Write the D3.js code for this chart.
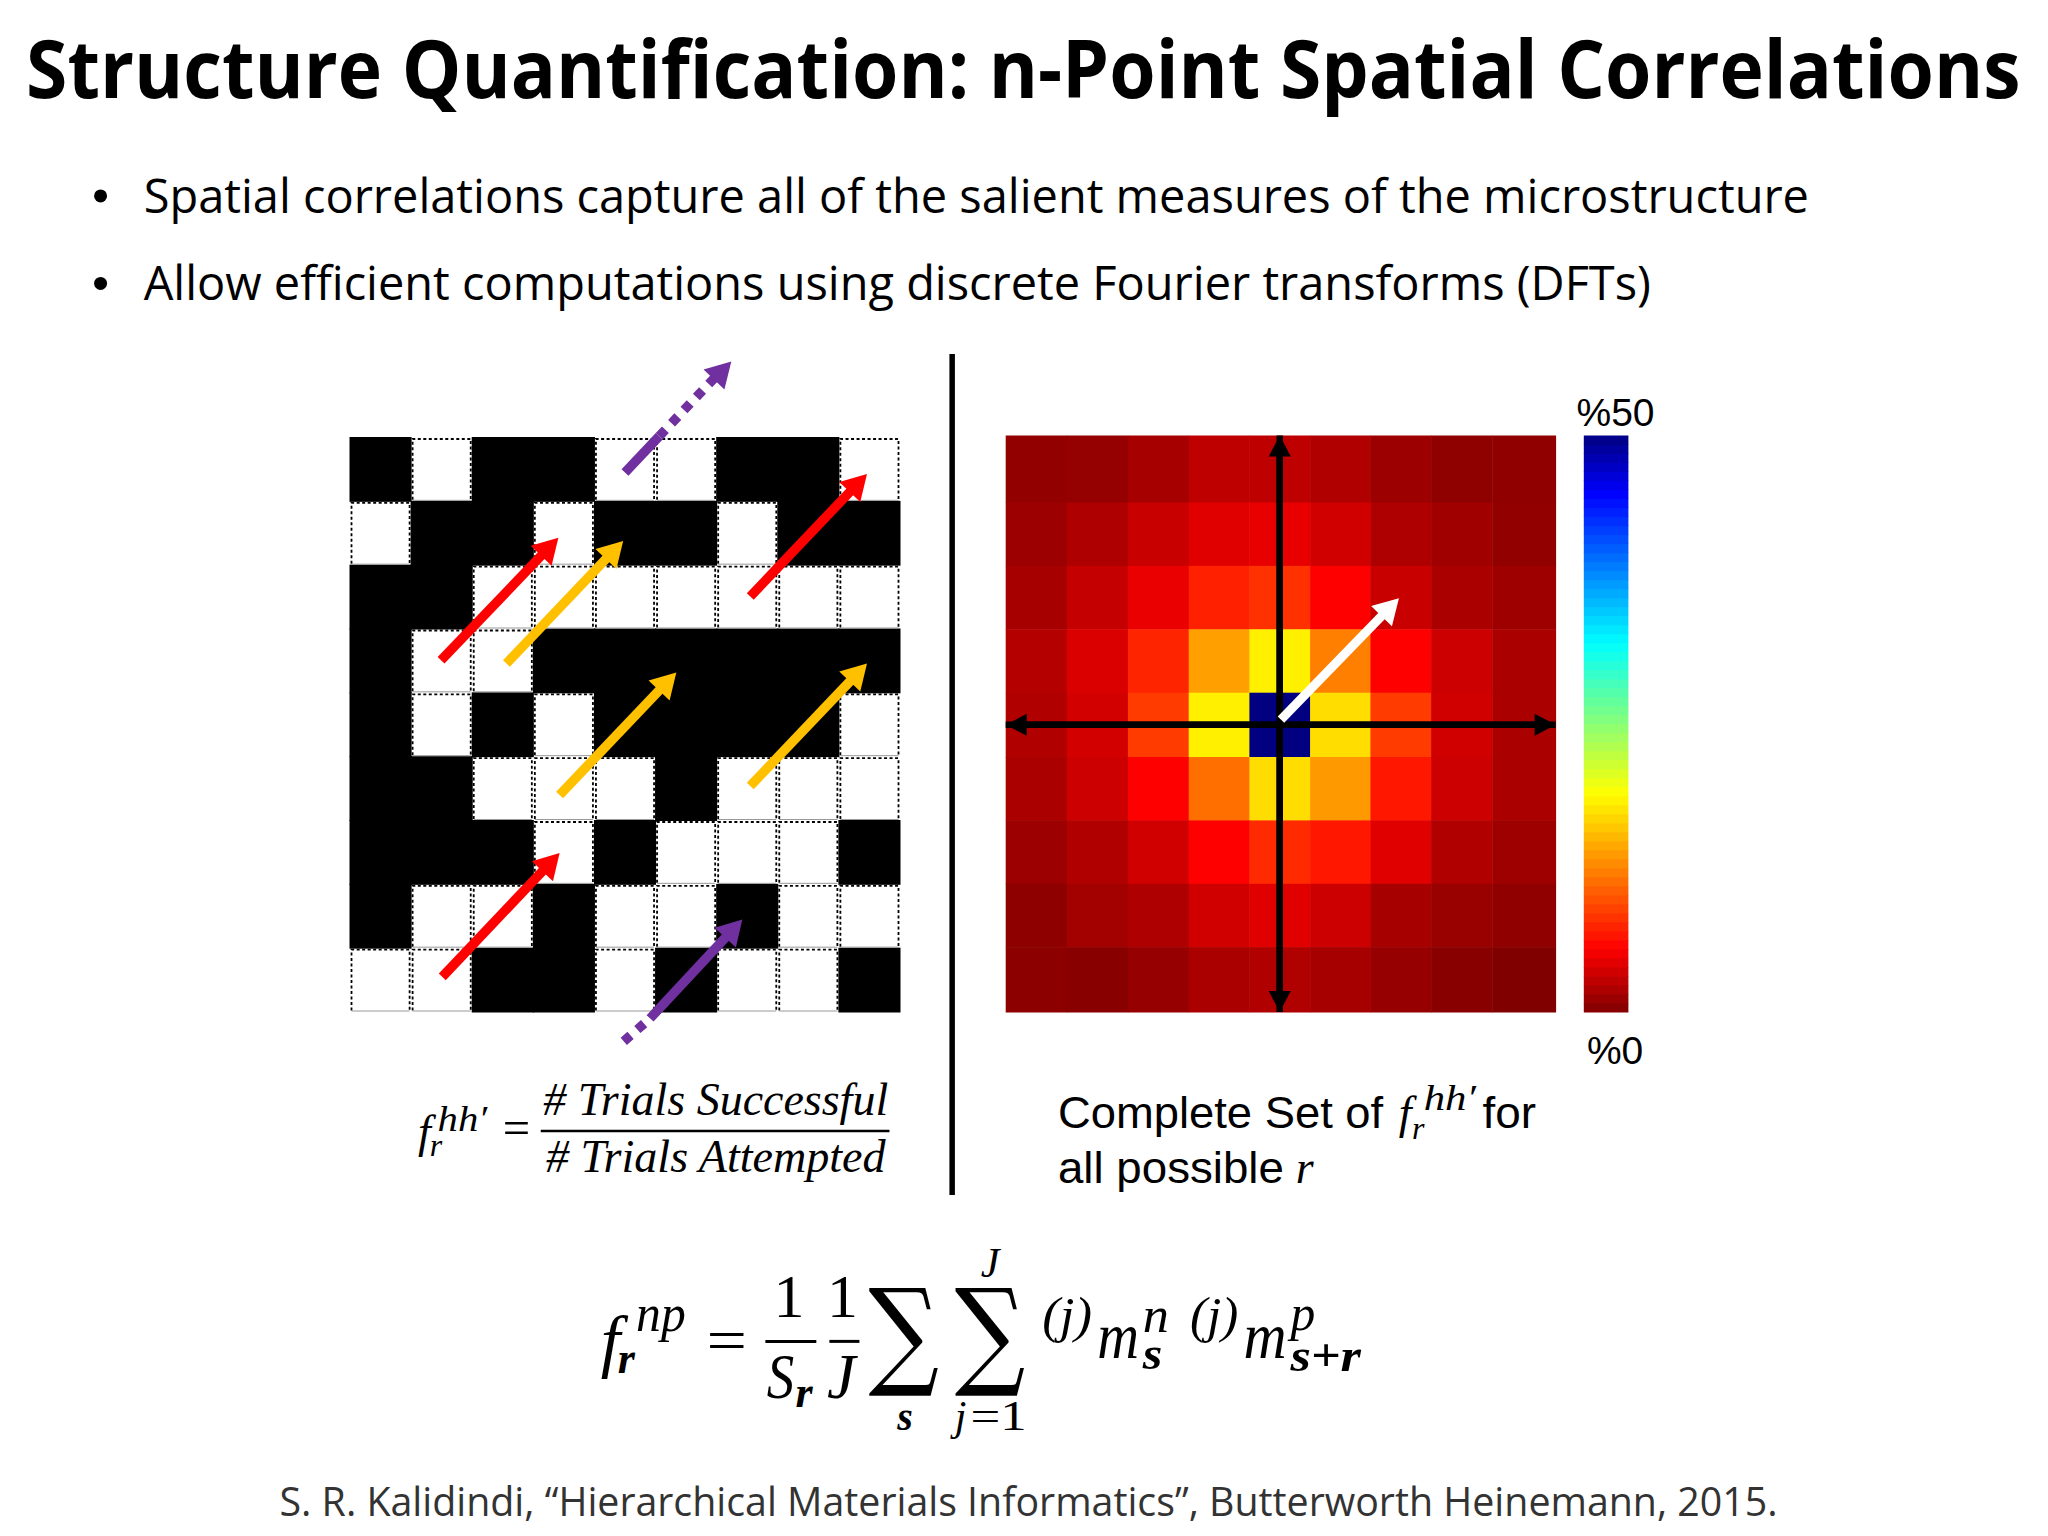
<!DOCTYPE html>
<html>
<head>
<meta charset="utf-8">
<script src="https://cdn.jsdelivr.net/npm/d3@7"></script>
<style>
  html, body { margin: 0; padding: 0; background: #fff; }
  svg { display: block; }
  text { font-variant-ligatures: none; }
</style>
</head>
<body>
<svg id="canvas" width="2048" height="1536"></svg>
<script>
// microstructure, 1 = white cell, 0 = black cell
var gridRows = [
  [0,1,0,0,1,1,0,0,1],
  [1,0,0,1,0,0,1,0,0],
  [0,0,1,1,1,1,1,1,1],
  [0,1,1,0,0,0,0,0,0],
  [0,1,0,1,0,0,0,0,1],
  [0,0,1,1,1,0,1,1,1],
  [0,0,0,1,0,1,1,1,0],
  [0,1,1,0,1,1,0,1,1],
  [1,1,0,0,1,0,1,1,0]
];

// correlation map values in percent
var heatRows = [
  [0.8,0.9,1.7,2.7,2.7,2.1,1.2,0.65,0.7],
  [1.2,2.0,3.1,4.2,4.5,3.5,2.0,1.4,0.8],
  [1.7,3.0,4.6,7.2,8.1,5.5,3.1,1.8,1.3],
  [2.3,3.9,7.4,13.9,18.2,12.2,5.5,3.3,1.8],
  [2.1,3.6,8.6,18.2,50,17.2,8.6,3.5,1.8],
  [1.8,3.3,5.5,11.4,17.2,13.6,6.7,3.3,1.8],
  [1.2,2.1,3.5,5.5,7.7,6.7,4.2,2.1,1.3],
  [0.6,1.5,2.0,3.5,4.2,3.3,1.7,1.1,0.7],
  [0.5,0.35,1.0,1.8,2.1,1.7,0.95,0.35,0]
];

// colour bar
var jetStops = [0, 5.5, 19, 25.5, 32, 45, 50];
var jetColors = ['#800000','#ff0000','#ffff00','#80ff80','#00ffff','#0000ff','#000080'];
var barLabels = ['%0', '%50'];

// vectors in grid units [col0, row0, col1, row1]
var redArrows = [[1.49,3.49,3.41,1.57],[6.55,2.49,8.46,0.57],[1.51,8.45,3.43,6.51]];
var goldArrows = [[2.56,3.54,4.47,1.62],[3.43,5.60,5.34,3.68],[6.55,5.46,8.46,3.54]];
var purpleArrows = [[4.91,9.10,6.42,7.55]];
var purpleDotted = [[4.48,9.46,4.91,9.10],[5.06,-0.02,6.05,-1.02]];
var purpleStubs = [[4.5,0.55,5.06,-0.02]];
var purpleHeads = [[5.06,-0.02,6.24,-1.19]];
var whiteArrows = [[4.52,4.42,6.47,2.51]];
var crossArrows = [[4.5,0,4.5,9],[4.5,9,4.5,0],[0,4.5,9,4.5],[9,4.5,0,4.5]];

var bullets = [
  'Spatial correlations capture all of the salient measures of the microstructure',
  'Allow efficient computations using discrete Fourier transforms (DFTs)'
];

var svg = d3.select('#canvas');
var k = 2048 / 1568;  // layout was measured on the small copy

var gridX = d3.scaleLinear().domain([0, 9]).range([350, 900]);
var gridY = d3.scaleLinear().domain([0, 9]).range([437.5, 1012]);
var heatX = d3.scaleLinear().domain(d3.range(10))
  .range([1005.7,1066.8,1127.9,1188.7,1249.4,1310.1,1370.4,1431.1,1492.3,1555.6]);
var heatY = d3.scaleLinear().domain(d3.range(10))
  .range([435.5,502.5,565.9,629.3,692.7,757,820.4,883.8,947.1,1012]);
var jet = d3.scaleLinear().domain(jetStops).range(jetColors);
var barY = d3.scaleLinear().domain([0, 50]).range([1012, 435.5]);

var SERIF = '"Liberation Serif", serif';
var ARIAL = '"Liberation Sans", Arial, sans-serif';
var SLIDE = '"Open Sans", sans-serif';

function label(x, y, str, o){
  o = o || {};
  var t = svg.append('text')
    .attr('x', x * k)
    .attr('y', y * k)
    .attr('font-family', o.font || SERIF)
    .attr('font-size', o.size)
    .attr('font-style', o.italic ? 'italic' : 'normal')
    .attr('font-weight', o.bold ? 'bold' : 'normal')
    .attr('text-anchor', o.anchor || 'start')
    .attr('fill', o.fill || '#000')
    .text(str);
  if(o.len){
    t.attr('textLength', o.len * k).attr('lengthAdjust', 'spacingAndGlyphs');
  }
  return t;
}

function arrow(g, d, xs, ys, color, w, headLen, headW){
  var x0 = xs(d[0]), y0 = ys(d[1]), x1 = xs(d[2]), y1 = ys(d[3]);
  var len = Math.hypot(x1 - x0, y1 - y0);
  var ux = (x1 - x0) / len, uy = (y1 - y0) / len;
  var bx = x1 - ux * headLen, by = y1 - uy * headLen;
  g.append('line')
    .attr('x1', x0).attr('y1', y0).attr('x2', bx + ux).attr('y2', by + uy)
    .attr('stroke', color).attr('stroke-width', w);
  g.append('polygon')
    .attr('fill', color)
    .attr('points', [
      [x1, y1],
      [bx - uy * headW / 2, by + ux * headW / 2],
      [bx + uy * headW / 2, by - ux * headW / 2]
    ].join(' '));
}

// title + bullets
label(20, 75, 'Structure Quantification: n-Point Spatial Correlations', {font: SLIDE, size: 80, bold: true, len: 1527});
svg.selectAll('circle.bullet').data(bullets).enter().append('circle')
  .attr('class', 'bullet')
  .attr('cx', 77 * k)
  .attr('cy', function(d, i){ return (i ? 217 : 150) * k; })
  .attr('r', 6.5)
  .attr('fill', '#000');
label(110, 163, bullets[0], {font: SLIDE, size: 48, len: 1275});
label(110, 230, bullets[1], {font: SLIDE, size: 48, len: 1154});

// left grid
var cells = [];
gridRows.forEach(function(row, r){
  row.forEach(function(v, c){ cells.push({r: r, c: c, v: v}); });
});
var gridG = svg.append('g');
gridG.selectAll('rect.black').data(cells.filter(function(d){ return !d.v; })).enter().append('rect')
  .attr('class', 'black')
  .attr('x', function(d){ return gridX(d.c) - 0.5; })
  .attr('y', function(d){ return gridY(d.r) - 0.5; })
  .attr('width', gridX(1) - gridX(0) + 1)
  .attr('height', gridY(1) - gridY(0) + 1)
  .attr('fill', '#000');
var whiteCells = cells.filter(function(d){ return d.v; });
gridG.selectAll('rect.white').data(whiteCells).enter().append('rect')
  .attr('class', 'white')
  .attr('x', function(d){ return gridX(d.c) + 1.5; })
  .attr('y', function(d){ return gridY(d.r) + 1.5; })
  .attr('width', gridX(1) - gridX(0) - 3)
  .attr('height', gridY(1) - gridY(0) - 3)
  .attr('fill', '#fff');
// dotted on three sides, the bottom edge of a cell is only a thin grey line
gridG.selectAll('path.dots').data(whiteCells).enter().append('path')
  .attr('class', 'dots')
  .attr('fill', 'none')
  .attr('stroke', '#000')
  .attr('stroke-width', 1.8)
  .attr('stroke-dasharray', '3 2.5')
  .attr('d', function(d){
    var l = gridX(d.c) + 1.5, r = gridX(d.c + 1) - 1.5, t = gridY(d.r) + 1.5, b = gridY(d.r + 1) - 1.5;
    return 'M' + l + ',' + b + 'L' + l + ',' + t + 'L' + r + ',' + t + 'L' + r + ',' + b;
  });
gridG.selectAll('line.edge').data(whiteCells).enter().append('line')
  .attr('class', 'edge')
  .attr('stroke', '#999')
  .attr('x1', function(d){ return gridX(d.c) + 1.5; })
  .attr('x2', function(d){ return gridX(d.c + 1) - 1.5; })
  .attr('y1', function(d){ return gridY(d.r + 1) - 1; })
  .attr('y2', function(d){ return gridY(d.r + 1) - 1; });

var RED = '#ff0000', GOLD = '#ffc000', PURPLE = '#7030a0';
var arrowG = svg.append('g');
redArrows.forEach(function(d){ arrow(arrowG, d, gridX, gridY, RED, 9.5, 25, 29); });
goldArrows.forEach(function(d){ arrow(arrowG, d, gridX, gridY, GOLD, 9.5, 25, 29); });
purpleArrows.forEach(function(d){ arrow(arrowG, d, gridX, gridY, PURPLE, 9.5, 25, 29); });
purpleStubs.forEach(function(d){
  arrowG.append('line')
    .attr('x1', gridX(d[0])).attr('y1', gridY(d[1]))
    .attr('x2', gridX(d[2])).attr('y2', gridY(d[3]))
    .attr('stroke', PURPLE).attr('stroke-width', 9.5);
});
purpleDotted.forEach(function(d){
  arrowG.append('line')
    .attr('x1', gridX(d[0])).attr('y1', gridY(d[1]))
    .attr('x2', gridX(d[2])).attr('y2', gridY(d[3]))
    .attr('stroke', PURPLE).attr('stroke-width', 9.5)
    .attr('stroke-dasharray', '9 9');
});
purpleHeads.forEach(function(d){
  var x1 = gridX(d[2]), y1 = gridY(d[3]);
  var x0 = gridX(d[0]), y0 = gridY(d[1]);
  var len = Math.hypot(x1 - x0, y1 - y0);
  var ux = (x1 - x0) / len, uy = (y1 - y0) / len;
  var bx = x1 - ux * 25, by = y1 - uy * 25;
  arrowG.append('polygon').attr('fill', PURPLE)
    .attr('points', [[x1, y1], [bx - uy * 14.5, by + ux * 14.5], [bx + uy * 14.5, by - ux * 14.5]].join(' '));
});

// heat map
var heatCells = [];
heatRows.forEach(function(row, r){
  row.forEach(function(v, c){ heatCells.push({r: r, c: c, v: v}); });
});
svg.append('g').selectAll('rect').data(heatCells).enter().append('rect')
  .attr('x', function(d){ return heatX(d.c); })
  .attr('y', function(d){ return heatY(d.r); })
  .attr('width', function(d){ return heatX(d.c + 1) - heatX(d.c) + 0.5; })
  .attr('height', function(d){ return heatY(d.r + 1) - heatY(d.r) + 0.5; })
  .attr('fill', function(d){ return jet(d.v); });

var crossG = svg.append('g');
crossArrows.forEach(function(d){ arrow(crossG, d, heatX, heatY, '#000', 6.5, 21, 22); });
whiteArrows.forEach(function(d){ arrow(crossG, d, heatX, heatY, '#fff', 9, 25, 29); });

// colour bar, 64 levels like the original
var levels = d3.range(64);
var barStep = 50 / 64;
svg.append('g').selectAll('rect').data(levels).enter().append('rect')
  .attr('x', 1583.8)
  .attr('width', 44.6)
  .attr('y', function(d){ return barY((d + 1) * barStep); })
  .attr('height', Math.abs(barY(0) - barY(barStep)) + 0.5)
  .attr('fill', function(d){ return jet((d + 0.5) * barStep); });
label(1207, 326, barLabels[1], {font: ARIAL, size: 39});
label(1215, 815, barLabels[0], {font: ARIAL, size: 39});

// divider
svg.append('line')
  .attr('x1', 729 * k).attr('x2', 729 * k)
  .attr('y1', 271 * k).attr('y2', 915 * k)
  .attr('stroke', '#000').attr('stroke-width', 5.5);

// left formula
label(320, 878, 'f', {size: 46, italic: true});
label(335, 866, 'hh′', {size: 36, italic: true, len: 38});
label(329, 885, 'r', {size: 32, italic: true});
label(385, 876, '=', {size: 48, len: 21});
svg.append('line')
  .attr('x1', 414 * k).attr('x2', 681 * k)
  .attr('y1', 866 * k).attr('y2', 866 * k)
  .attr('stroke', '#000').attr('stroke-width', 2.5);
label(416, 854, '# Trials Successful', {size: 46, italic: true, len: 264});
label(418, 897, '# Trials Attempted', {size: 46, italic: true, len: 260});

// right caption
label(810, 864, 'Complete Set of', {font: ARIAL, size: 45, len: 249});
label(1071, 864, 'f', {size: 46, italic: true});
label(1090, 850, 'hh′', {size: 36, italic: true, len: 40});
label(1081, 872, 'r', {size: 32, italic: true});
label(1135, 864, 'for', {font: ARIAL, size: 45, len: 41});
label(810, 906, 'all possible', {font: ARIAL, size: 45, len: 173});
label(992, 906, 'r', {size: 46, italic: true});

// big formula
label(460, 1044, 'f', {size: 70, italic: true});
label(487, 1019, 'np', {size: 52, italic: true, len: 38});
label(473, 1051, 'r', {size: 44, italic: true, bold: true});
label(541, 1042, '=', {size: 62, len: 31});
label(604, 1008, '1', {size: 62, anchor: 'middle'});
svg.append('line').attr('x1', 586 * k).attr('x2', 625 * k).attr('y1', 1027 * k).attr('y2', 1027 * k)
  .attr('stroke', '#000').attr('stroke-width', 3);
label(587, 1070, 'S', {size: 64, italic: true, len: 21});
label(609, 1077, 'r', {size: 44, italic: true, bold: true});
label(645, 1008, '1', {size: 62, anchor: 'middle'});
svg.append('line').attr('x1', 635 * k).attr('x2', 658 * k).attr('y1', 1027 * k).attr('y2', 1027 * k)
  .attr('stroke', '#000').attr('stroke-width', 3);
label(644, 1070, 'J', {size: 64, italic: true, anchor: 'middle'});
label(665, 1051, '∑', {font: '"DejaVu Serif", serif', size: 118, len: 54});
label(731, 1051, '∑', {font: '"DejaVu Serif", serif', size: 118, len: 54});
label(693, 1095, 's', {size: 40, italic: true, bold: true, anchor: 'middle'});
label(731, 1095, 'j', {size: 42, italic: true});
label(743, 1095, '=1', {size: 42, len: 43});
label(758, 978, 'J', {size: 42, italic: true, anchor: 'middle'});
label(798, 1020, '(j)', {size: 50, italic: true, len: 38});
label(840, 1040, 'm', {size: 66, italic: true, len: 32});
label(875, 1020, 'n', {size: 50, italic: true, len: 20});
label(875, 1048, 's', {size: 46, italic: true, bold: true, len: 15});
label(911, 1020, '(j)', {size: 50, italic: true, len: 37});
label(952, 1040, 'm', {size: 66, italic: true, len: 33});
label(988, 1018, 'p', {size: 50, italic: true, len: 19});
label(988, 1050, 's+r', {size: 46, italic: true, bold: true, len: 54});

// citation
label(214, 1161, 'S. R. Kalidindi, “Hierarchical Materials Informatics”, Butterworth Heinemann, 2015.', {font: SLIDE, size: 40, fill: '#333', len: 1147});
</script>
</body>
</html>
